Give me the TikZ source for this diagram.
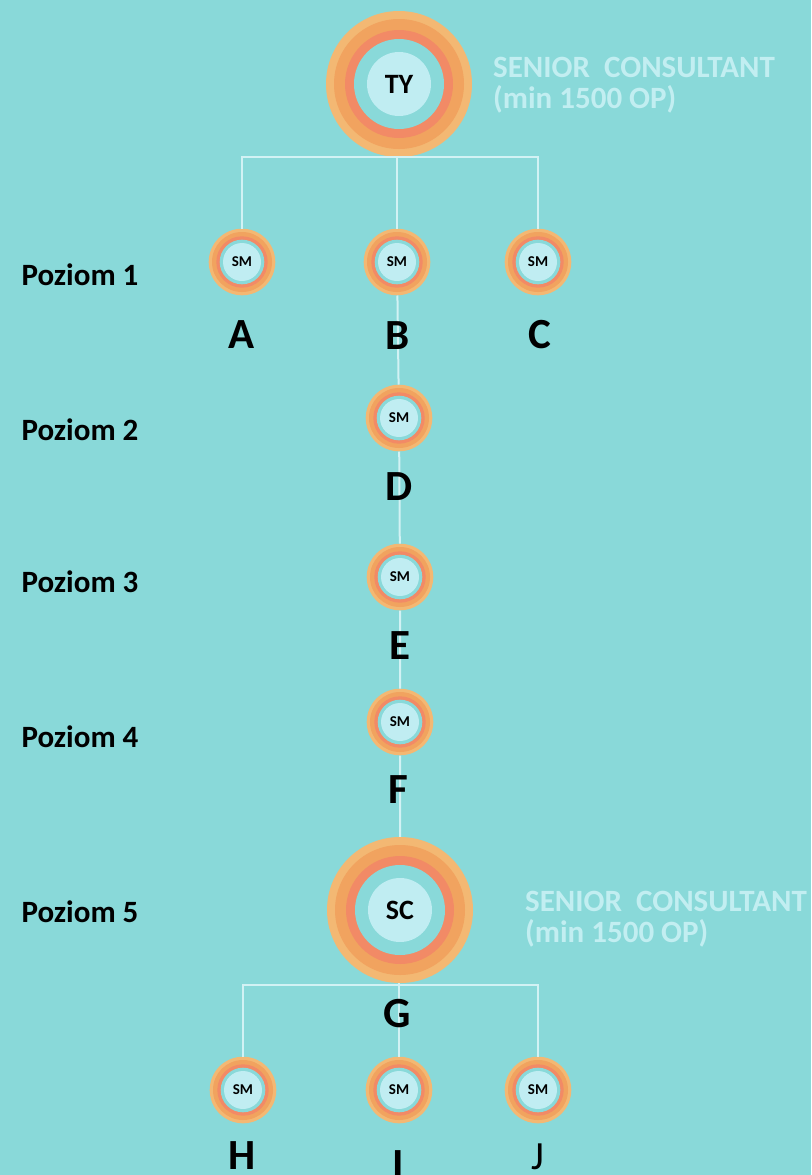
\documentclass[tikz,border=0pt]{standalone}
\usepackage{fontspec}
\setmainfont{Carlito}
\usetikzlibrary{positioning}

\definecolor{bgteal}{HTML}{89D9D9}
\definecolor{ringlight}{HTML}{F3B873}
\definecolor{ringorange}{HTML}{F1A35F}
\definecolor{ringcoral}{HTML}{F28A66}
\definecolor{corelight}{HTML}{C0EDF2}
\definecolor{linkline}{HTML}{D2F2F4}
\definecolor{ranktext}{HTML}{C2EEF1}

\tikzset{
  rings/.style n args={4}{path picture={
      \fill[ringorange] (path picture bounding box.center) circle (#1);
      \fill[ringcoral] (path picture bounding box.center) circle (#2);
      \fill[bgteal] (path picture bounding box.center) circle (#3);
      \fill[corelight] (path picture bounding box.center) circle (#4);
    }},
  smnode/.style={circle, fill=ringlight, minimum size=66.6pt, inner sep=0pt,
    rings={30pt}{25.7pt}{22.3pt}{19pt}, font=\bfseries\fontsize{15}{15}\selectfont},
  bignode/.style={circle, fill=ringlight, minimum size=146pt, inner sep=0pt,
    rings={65pt}{54pt}{45pt}{32pt}, font=\bfseries\fontsize{28}{28}\selectfont},
  link/.style={draw=linkline, line width=2pt},
  letter/.style={anchor=base, inner sep=1pt, font=\bfseries\fontsize{43}{43}\selectfont},
  level/.style={anchor=base west, font=\bfseries\fontsize{31}{31}\selectfont},
  rank/.style={anchor=base west, text=ranktext, align=left, inner sep=0pt,
    font=\bfseries\fontsize{31}{31}\selectfont}
}

\begin{document}
\begin{tikzpicture}[x=1pt, y=-1pt]
    % Background
    \useasboundingbox (0,0) rectangle (811,1175);
    \fill[bgteal] (0,0) rectangle (811,1175);

    % Circles
    \node[bignode] (TY) at (399,84) {TY};
    \node[smnode] (A) at (242,262) {SM};
    \node[smnode] (B) at (397,262) {SM};
    \node[smnode] (C) at (538,262) {SM};
    \node[smnode] (D) at (399,418) {SM};
    \node[smnode] (E) at (400,577) {SM};
    \node[smnode] (F) at (400,722) {SM};
    \node[bignode] (SC) at (400,910) {SC};
    \node[smnode] (H) at (243,1090) {SM};
    \node[smnode] (I) at (399,1090) {SM};
    \node[smnode] (J) at (538,1090) {SM};

    % Links
    \draw[link] (A.north) |- (TY.south) -| (C.north);
    \draw[link] (B.north) -- (B.north |- TY.south);
    \draw[link] (B) -- (D) -- (E) -- (F) -- (SC);
    \draw[link] (H.north) |- ([yshift=-2pt]SC.south) -| (J.north);
    \draw[link] (I.north) -- (I.north |- SC.south);

    % Letters
    \node[letter] (labA) at (242,348) {A};
    \node[letter] (labB) at (398,349) {B};
    \node[letter] (labC) at (540,348) {C};
    \node[letter] (labD) at (399,500) {D};
    \node[letter] (labE) at (400,659) {E};
    \node[letter] (labF) at (398,803) {F};
    \node[letter] (labG) at (397,1027) {G};
    \node[letter] (labH) at (242,1169) {H};
    \node[letter] (labI) at (398,1178) {I};
    \node[letter, font=\fontsize{40}{40}\selectfont] (labJ) at (538,1169) {J};

    % Levels
    \node[level] (lev1) at (18,285) {Poziom 1};
    \node[level] (lev2) at (18,440) {Poziom 2};
    \node[level] (lev3) at (18,592) {Poziom 3};
    \node[level] (lev4) at (18,747) {Poziom 4};
    \node[level] (lev5) at (18,922) {Poziom 5};

    % Rank notes
    \node[rank] (rankTY) at (493,108) {SENIOR\ \ CONSULTANT\\(min 1500 OP)};
    \node[rank] (rankSC) at (525,942) {SENIOR\ \ CONSULTANT\\(min 1500 OP)};
\end{tikzpicture}
\end{document}
